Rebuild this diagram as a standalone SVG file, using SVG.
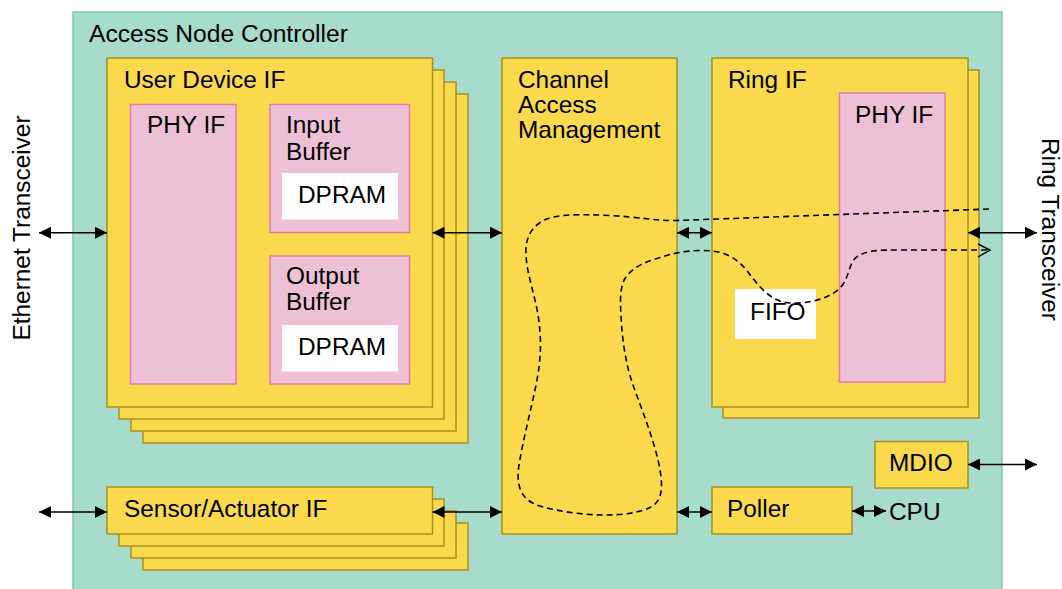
<svg xmlns="http://www.w3.org/2000/svg" width="1062" height="589" viewBox="0 0 1062 589">
<defs>
<style>
text{font-family:"Liberation Sans",Arial,sans-serif;font-size:24.4px;fill:#000}
.teal{fill:#A7DBCB;stroke:#7CC7AF;stroke-width:1.5}
.yel{fill:#FAD94D;stroke:#A8901E;stroke-width:1.5}
.pink{fill:#EEC0D5;stroke:#E27BA9;stroke-width:1.5}
.white{fill:#FFFFFF;stroke:none}
.arr{stroke:#000;stroke-width:1.6;fill:none;marker-start:url(#ah);marker-end:url(#ah)}
.dash{stroke:#000;stroke-width:1.6;fill:none;stroke-dasharray:6 4}
</style>
<marker id="ah" markerUnits="userSpaceOnUse" markerWidth="12" markerHeight="12" viewBox="0 0 11 11" refX="11" refY="5.5" orient="auto-start-reverse">
<path d="M0,0 L11,5.5 L0,11 z" fill="#000"/>
</marker>
</defs>
<rect width="1062" height="589" fill="#FFFFFF"/>
<g id="access-node-controller">
<rect class="teal" x="73" y="12" width="929" height="590"/>
<text x="89" y="42" textLength="259" lengthAdjust="spacingAndGlyphs">Access Node Controller</text>
</g>
<g id="user-device-if">
<rect class="yel" x="143" y="94" width="325" height="349"/>
<rect class="yel" x="131" y="82" width="325" height="349"/>
<rect class="yel" x="119" y="70" width="325" height="349"/>
<rect class="yel" x="107" y="58" width="325.5" height="349"/>
<text x="124" y="88">User Device IF</text>
</g>
<g id="phy-if-user">
<rect class="pink" x="130.5" y="104.5" width="105.5" height="279.5"/>
<text x="147" y="133">PHY IF</text>
</g>
<g id="input-buffer">
<rect class="pink" x="270" y="104.5" width="139.5" height="128"/>
<text x="286" y="133">Input</text>
<text x="286" y="160">Buffer</text>
</g>
<g id="dpram-input">
<rect class="white" x="282" y="173" width="116" height="46.5"/>
<text x="298" y="203">DPRAM</text>
</g>
<g id="output-buffer">
<rect class="pink" x="270" y="256" width="139.5" height="128"/>
<text x="286" y="284">Output</text>
<text x="286" y="310">Buffer</text>
</g>
<g id="dpram-output">
<rect class="white" x="282" y="325" width="116" height="46.5"/>
<text x="298" y="355">DPRAM</text>
</g>
<g id="channel-access-management">
<rect class="yel" x="502" y="58" width="175" height="476"/>
<text x="518" y="88">Channel</text>
<text x="518" y="113">Access</text>
<text x="518" y="138">Management</text>
</g>
<g id="ring-if">
<rect class="yel" x="723" y="70" width="256" height="348"/>
<rect class="yel" x="712" y="58" width="256" height="349"/>
<text x="728" y="88">Ring IF</text>
</g>
<g id="phy-if-ring">
<rect class="pink" x="839.5" y="93" width="105.5" height="289"/>
<text x="855" y="123">PHY IF</text>
</g>
<g id="fifo">
<rect class="white" x="735" y="289" width="81" height="50"/>
<text x="750" y="320">FIFO</text>
</g>
<g id="mdio">
<rect class="yel" x="875" y="441.5" width="93" height="46.5"/>
<text x="889" y="471">MDIO</text>
</g>
<g id="sensor-actuator-if">
<rect class="yel" x="143" y="523" width="325" height="47"/>
<rect class="yel" x="131" y="511" width="325" height="47"/>
<rect class="yel" x="119" y="499" width="325" height="47"/>
<rect class="yel" x="107" y="487" width="325.5" height="47"/>
<text x="124" y="517">Sensor/Actuator IF</text>
</g>
<g id="poller">
<rect class="yel" x="712" y="487" width="140" height="47"/>
<text x="727" y="517">Poller</text>
</g>
<g id="ethernet-transceiver">
<text x="29.5" y="228" text-anchor="middle" transform="rotate(-90 29.5 228)">Ethernet Transceiver</text>
</g>
<g id="ring-transceiver">
<text x="1042" y="229.5" text-anchor="middle" transform="rotate(90 1042 229.5)">Ring Transceiver</text>
</g>
<g id="cpu">
<text x="889" y="520">CPU</text>
</g>
<g id="connectors">
<line class="arr" x1="39" y1="232.7" x2="107" y2="232.7"/>
<line class="arr" x1="432.5" y1="232.7" x2="502" y2="232.7"/>
<line class="arr" x1="677" y1="232.7" x2="712" y2="232.7"/>
<line class="arr" x1="968" y1="232.7" x2="1037" y2="232.7"/>
<line class="arr" x1="39" y1="512" x2="107" y2="512"/>
<line class="arr" x1="432.5" y1="512" x2="502" y2="512"/>
<line class="arr" x1="677" y1="512" x2="712" y2="512"/>
<line class="arr" x1="852" y1="511" x2="886" y2="511"/>
<line class="arr" x1="968" y1="464.5" x2="1037" y2="464.5"/>
<path class="dash" d="M989,209 L677,220.5 C655,221 640,217 610,215.5 C580,214 555,214 543,220.7 C530,228 525,240 526,255 C527,275 535,295 538,315 C542,340 541,360 536,385 C531,410 523,440 519,465 C516,485 520,500 540,506 C560,512 585,515 605,515 C625,515 648,512 656,503 C664,494 662,478 658,460 C652,435 642,410 633,385 C626,365 622,340 621,315 C620,300 620,285 626,277 C633,267 645,262 660,257.5 C670,254.5 680,251 700,250.5 C725,250 737,258 748,272 C758,285 770,302 790,303 C810,304 830,298 840,288 C850,278 848,262 858,256 C868,250 880,250 900,250 L987,250"/>
<polyline points="978,244 990,250 978,257" fill="none" stroke="#000" stroke-width="1.4"/>
</g>
</svg>
